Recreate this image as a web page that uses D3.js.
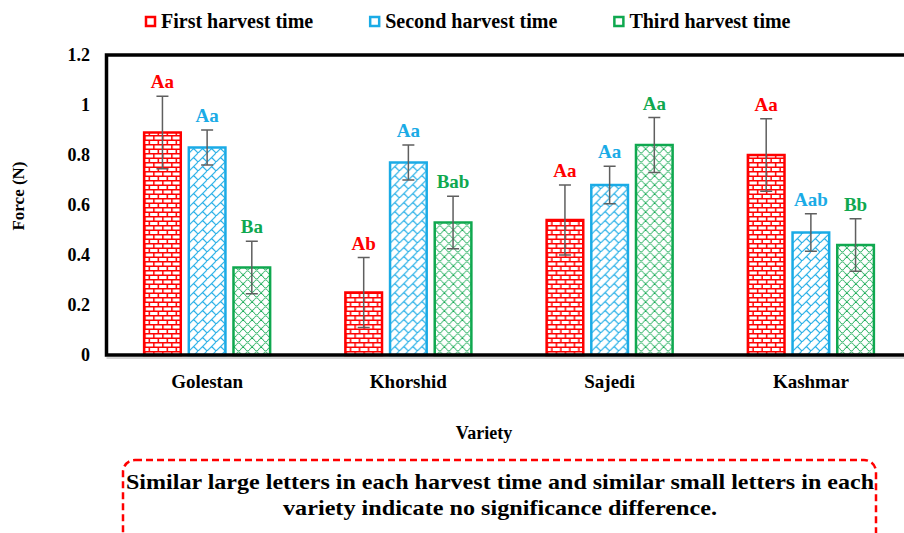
<!DOCTYPE html>
<html>
<head>
<meta charset="utf-8">
<script src="https://cdn.jsdelivr.net/npm/d3@7/dist/d3.min.js"></script>
<style>
    body { margin: 0; background: #fff; }
    svg { display: block; font-family: "Liberation Serif", "Times New Roman", serif; font-weight: bold; }
</style>
</head>
<body>
<svg id="chart" width="904" height="533"></svg>
<script>
    var categories = ["Golestan", "Khorshid", "Sajedi", "Kashmar"];
    var seriesNames = ["First harvest time", "Second harvest time", "Third harvest time"];
    var firstValues = [0.89, 0.25, 0.54, 0.80];
    var secondValues = [0.83, 0.77, 0.68, 0.49];
    var thirdValues = [0.35, 0.53, 0.84, 0.44];
    var firstErrors = [0.145, 0.14, 0.14, 0.145];
    var secondErrors = [0.07, 0.07, 0.075, 0.075];
    var thirdErrors = [0.105, 0.105, 0.11, 0.105];
    var firstLetters = ["Aa", "Ab", "Aa", "Aa"];
    var secondLetters = ["Aa", "Aa", "Aa", "Aab"];
    var thirdLetters = ["Ba", "Bab", "Aa", "Bb"];
    var yTicks = [0, 0.2, 0.4, 0.6, 0.8, 1, 1.2];
    var noteLines = [
        "Similar large letters in each harvest time  and similar small letters in  each",
        "variety indicate no significance difference."
    ];

    (function () {
        'use strict';

        var colors = ["#ff0000", "#1aabe6", "#0fa84f"],
            values = [firstValues, secondValues, thirdValues],
            errors = [firstErrors, secondErrors, thirdErrors],
            letters = [firstLetters, secondLetters, thirdLetters];

        var svg = d3.select("#chart"),
            plotLeft = 106.5, plotRight = 911.5, plotTop = 55, plotBottom = 355;

        var x = d3.scaleBand().domain(categories).range([plotLeft, plotRight]).padding(0);
        var xs = d3.scaleBand().domain(d3.range(3)).range([-63, 63]).paddingInner(0.18);
        var y = d3.scaleLinear().domain([0, 1.2]).range([plotBottom, plotTop]);

        // fill patterns (brick, diagonal brick, shingle)
        var defs = svg.append("defs");
        var p0 = defs.append("pattern").attr("id", "pat0").attr("patternUnits", "userSpaceOnUse")
            .attr("width", 9).attr("height", 9);
        p0.append("rect").attr("width", 9).attr("height", 9).attr("fill", "#fff");
        p0.append("path").attr("d", "M0,0.75H9M0,5.25H9M0.75,0V5.25M5.25,5.25V9")
            .attr("stroke", colors[0]).attr("stroke-width", 1.5).attr("fill", "none");

        var p1 = defs.append("pattern").attr("id", "pat1").attr("patternUnits", "userSpaceOnUse")
            .attr("width", 9).attr("height", 9);
        p1.append("rect").attr("width", 9).attr("height", 9).attr("fill", "#fff");
        p1.append("path").attr("d", "M-1,10L10,-1M4.5,4.5L9,9")
            .attr("stroke", colors[1]).attr("stroke-width", 1.1).attr("fill", "none");

        var p2 = defs.append("pattern").attr("id", "pat2").attr("patternUnits", "userSpaceOnUse")
            .attr("width", 9).attr("height", 9);
        p2.append("rect").attr("width", 9).attr("height", 9).attr("fill", "#fff");
        p2.append("path")
            .attr("d", "M0,4.5C2,4.5 2.5,0.8 4.5,0.8C6.5,0.8 7,4.5 9,4.5" +
                "M-4.5,9C-2.5,9 -2,5.3 0,5.3C2,5.3 2.5,9 4.5,9C6.5,9 7,5.3 9,5.3C11,5.3 11.5,9 13.5,9")
            .attr("stroke", colors[2]).attr("stroke-width", 1).attr("fill", "none");

        // y tick labels
        svg.append("g").selectAll("text").data(yTicks).enter().append("text")
            .attr("x", 90).attr("y", function (d) { return y(d); })
            .attr("dy", "0.35em").attr("text-anchor", "end")
            .style("font-size", "18px")
            .text(function (d) { return d; });

        // bars
        var groups = svg.append("g").selectAll("g").data(categories).enter().append("g")
            .attr("transform", function (d) { return "translate(" + (x(d) + x.bandwidth() / 2) + ",0)"; });

        groups.each(function (cat, ci) {
            var g = d3.select(this);
            d3.range(3).forEach(function (si) {
                var v = values[si][ci], e = errors[si][ci],
                    bx = xs(si), bw = xs.bandwidth(), cx = bx + bw / 2;
                g.append("rect")
                    .attr("x", bx).attr("y", y(v))
                    .attr("width", bw).attr("height", y(0) - y(v))
                    .attr("fill", "url(#pat" + si + ")")
                    .attr("stroke", colors[si]).attr("stroke-width", 2.5);
                g.append("path")
                    .attr("d", "M" + cx + "," + y(v + e) + "V" + y(v - e) +
                        "M" + (cx - 6) + "," + y(v + e) + "H" + (cx + 6) +
                        "M" + (cx - 6) + "," + y(v - e) + "H" + (cx + 6))
                    .attr("stroke", "#5f5f5f").attr("stroke-width", 1.5).attr("fill", "none");
                g.append("text")
                    .attr("x", cx).attr("y", y(v + e) - 8)
                    .attr("text-anchor", "middle")
                    .attr("fill", colors[si])
                    .style("font-size", "19px")
                    .text(letters[si][ci]);
            });
        });

        // frame
        svg.append("line").attr("x1", plotLeft).attr("x2", 904)
            .attr("y1", plotBottom + 3).attr("y2", plotBottom + 3)
            .attr("stroke", "#aaa").attr("stroke-width", 1);
        svg.append("rect").attr("x", plotLeft).attr("y", plotTop)
            .attr("width", 860).attr("height", plotBottom - plotTop)
            .attr("fill", "none").attr("stroke", "#000").attr("stroke-width", 3.5);

        // category labels
        svg.append("g").selectAll("text").data(categories).enter().append("text")
            .attr("x", function (d) { return x(d) + x.bandwidth() / 2; })
            .attr("y", 388).attr("text-anchor", "middle")
            .style("font-size", "19px")
            .text(function (d) { return d; });

        svg.append("text").attr("x", 484).attr("y", 439).attr("text-anchor", "middle")
            .style("font-size", "18px").text("Variety");

        svg.append("text").attr("transform", "translate(24,196) rotate(-90)")
            .attr("text-anchor", "middle").style("font-size", "17px").text("Force (N)");

        // legend
        var legend = svg.append("g"), lx = 145;
        seriesNames.forEach(function (name, i) {
            legend.append("rect").attr("x", lx + 1).attr("y", 17).attr("width", 9).attr("height", 9)
                .attr("fill", "#fff").attr("stroke", colors[i]).attr("stroke-width", 2.5);
            var t = legend.append("text").attr("x", lx + 16).attr("y", 28)
                .style("font-size", "20px").text(name);
            lx += 16 + t.node().getComputedTextLength() + 56;
        });

        // note box
        svg.append("rect").attr("x", 123).attr("y", 460).attr("width", 753).attr("height", 100)
            .attr("rx", 12).attr("fill", "none")
            .attr("stroke", "#ff0000").attr("stroke-width", 2.5).attr("stroke-dasharray", "7,4");
        svg.append("g").selectAll("text").data(noteLines).enter().append("text")
            .attr("x", 500).attr("y", function (d, i) { return 489 + i * 26; })
            .attr("text-anchor", "middle").style("font-size", "22px")
            .attr("textLength", function (d, i) { return i === 0 ? 748 : 434; })
            .attr("lengthAdjust", "spacingAndGlyphs")
            .text(function (d) { return d; });
    })();
</script>
</body>
</html>
